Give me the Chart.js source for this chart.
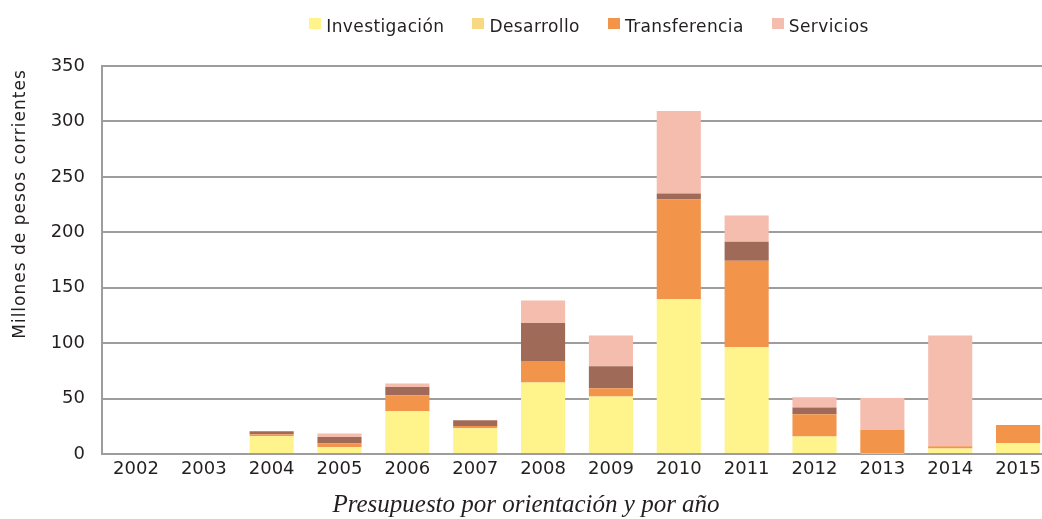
<!DOCTYPE html>
<html>
<head>
<meta charset="utf-8">
<script src="https://cdn.jsdelivr.net/npm/chart.js@4/dist/chart.umd.min.js"></script>
<style>
  html, body { margin: 0; padding: 0; background: #fff; overflow: hidden; width: 1042px; height: 519px; }
  #wrap { position: absolute; left: 0; top: 0; width: 1052px; height: 519px; }
  #legend { position: absolute; left: 0; top: 16px; width: 1178px; display: flex; justify-content: center; gap: 28px;
            font-family: "DejaVu Sans", sans-serif; font-size: 17px; line-height: 20px; letter-spacing: 0.4px; color: #231f20; }
  .item { display: flex; align-items: center; gap: 5px; }
  .box { width: 12px; height: 11px; position: relative; top: -3px; }
</style>
</head>
<body>
<div id="wrap"><canvas id="c" width="1052" height="519"></canvas></div>
<div id="legend"></div>
<script>
const years = ["2002","2003","2004","2005","2006","2007","2008","2009","2010","2011","2012","2013","2014","2015"];
const investigacion = [0, 0, 16.0, 6.4, 38.8, 23.2, 64.4, 51.8, 139.7, 96.5, 15.8, 0.5, 5.0, 10.0];
const desarrollo    = [0, 0, 0, 0, 0, 0, 0, 0, 0, 0, 0, 0, 0, 0];
const transferencia = [0, 0, 1.8, 3.0, 14.1, 2.1, 19.5, 7.5, 89.8, 77.8, 20.1, 21.3, 2.1, 16.2];
const otros         = [0, 0, 2.7, 6.0, 7.5, 5.1, 34.2, 19.8, 5.4, 17.1, 6.0, 0, 0, 0];
const servicios     = [0, 0, 0, 3.0, 3.3, 0, 20.4, 27.7, 74.5, 23.7, 9.3, 28.8, 99.7, 0];
const yTicks = [0, 50, 100, 150, 200, 250, 300, 350];

const seriesNames = ["Investigación", "Desarrollo", "Transferencia", "Otros", "Servicios"];
const seriesColors = ["#fef48b", "#f8d880", "#f2954b", "#a06a58", "#f5bdad"];
const legendShown = [true, true, true, false, true];
const yTitle = "Millones de pesos corrientes";
const xTitle = "Presupuesto por orientación y por año";

const seriesData = [investigacion, desarrollo, transferencia, otros, servicios];
const datasets = seriesData.map((d, i) => ({
  label: seriesNames[i], data: d, backgroundColor: seriesColors[i], borderWidth: 0,
  barPercentage: 0.65, categoryPercentage: 1.0
}));

// HTML legend
const leg = document.getElementById('legend');
seriesNames.forEach((n, i) => {
  if (!legendShown[i]) return;
  const it = document.createElement('div'); it.className = 'item';
  const b = document.createElement('div'); b.className = 'box'; b.style.background = seriesColors[i];
  const t = document.createElement('span'); t.textContent = n;
  it.appendChild(b); it.appendChild(t); leg.appendChild(it);
});

const yTitlePlugin = {
  id: 'yTitle',
  afterDraw(chart) {
    const ctx = chart.ctx;
    ctx.save();
    ctx.translate(21, 204);
    ctx.rotate(-Math.PI / 2);
    ctx.font = '17px "DejaVu Sans"';
    try { ctx.letterSpacing = '1px'; } catch (e) {}
    ctx.fillStyle = '#231f20';
    ctx.textAlign = 'center';
    ctx.textBaseline = 'middle';
    ctx.fillText(yTitle, 0, 0);
    ctx.restore();
  }
};

new Chart(document.getElementById('c'), {
  type: 'bar',
  data: { labels: years, datasets },
  plugins: [yTitlePlugin],
  options: {
    responsive: false,
    animation: false,
    devicePixelRatio: 1,
    layout: { padding: { top: 66, left: 0, right: 0, bottom: 0 } },
    plugins: {
      legend: { display: false },
      tooltip: { enabled: false },
      title: {
        display: true, text: xTitle, position: 'bottom',
        font: { family: '"Liberation Serif"', style: 'italic', size: 25, weight: 'normal', lineHeight: 0.8 },
        color: '#231f20', padding: { top: 11, bottom: 4 }
      }
    },
    scales: {
      x: {
        stacked: true,
        afterFit(scale) { scale.height = 30; },
        grid: { display: false },
        border: { display: true, color: '#9d9d9d', width: 2 },
        ticks: { font: { family: '"DejaVu Sans"', size: 18 }, color: '#231f20', padding: -3, maxRotation: 0, autoSkip: false }
      },
      y: {
        stacked: true, min: 0, max: 350,
        afterFit(scale) { scale.width = 102; },
        afterBuildTicks(scale) { scale.ticks = yTicks.map(v => ({ value: v })); },
        grid: { color: '#9d9d9d', lineWidth: 2, drawTicks: false },
        border: { display: true, color: '#9d9d9d', width: 2 },
        ticks: { font: { family: '"DejaVu Sans"', size: 18 }, color: '#231f20', padding: 17 }
      }
    }
  }
});
</script>
</body>
</html>
